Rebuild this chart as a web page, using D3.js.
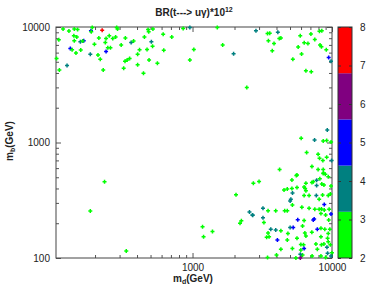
<!DOCTYPE html>
<html>
<head>
<meta charset="utf-8">
<script src="https://cdn.jsdelivr.net/npm/d3@7"></script>
<style>
  body { margin: 0; background: #fff; }
  text { font-family: "Liberation Sans", Arial, sans-serif; fill: #222; }
</style>
</head>
<body>
<div id="chart"></div>
<script>
// scatter values: m_d (GeV), m_b (GeV), BR*1e12
let md = [118,130,142,150,187,188,191,225,286,290,110,141,148,142,157,166,163,213,240,253,
  268,281,237,198,247,258,133,137,158,146,185,210,240,218,308,330,363,378,452,480,
  485,520,507,517,417,472,404,354,340,328,488,404,321,229,445,560,622,616,710,857,
  957,1022,957,126,111,106,1505,2850,3450,3580,4090,3500,3840,4190,4300,3730,5920,7060,8130,8450,
  8210,8400,7530,6320,6720,5720,6050,5240,9100,9470,9840,6500,7100,1645,1970,2450,9250,6010,7500,8650,
  9160,9850,6580,7950,8140,8600,9160,9940,7180,7950,8650,4210,5610,8650,2730,3000,5160,5550,6500,7180,
  7340,7760,8180,8700,8950,9400,9840,7760,8450,8750,4530,4780,5160,5610,6310,6420,6500,5210,6310,6850,
  7720,8560,9400,5070,5010,8090,9730,8800,3200,3480,3950,4580,4780,6080,5200,6850,7530,8090,8400,8800,
  9540,9840,2690,3200,7450,7340,5680,6310,8330,9000,9470,3250,5010,5270,6150,7850,8330,8880,9650,3640,
  3950,4300,3480,4830,6390,7170,9400,3540,3400,4060,4780,5610,6500,8330,9300,5980,6250,7670,8400,8750,
  9400,9730,5200,6310,4300,5980,7850,9200,9300,9990,6150,7200,8330,9840,5930,5510,9000,3450,4000,5930,
  234,185,335,1180,1200,1390,2050,2190,2240,2560,2700];
let mb = [9600,9250,9600,9500,9300,9100,9900,9350,9900,9600,7760,8400,8200,7600,7460,7600,7550,8050,7950,8400,
  7950,8200,7350,7100,6600,6600,6500,6350,6320,5950,5820,5720,6150,5250,6990,8050,7350,7550,8200,9500,
  9100,9600,7450,6800,6350,6400,5820,5350,5180,5050,5180,4720,4400,4250,3970,4850,6280,8650,8200,9700,
  9900,6400,5180,4640,4250,5350,9900,9300,8800,8850,9000,7600,7200,7950,8050,6230,8400,8700,9200,9300,
  7000,6750,7800,7300,7200,6700,5850,5250,6350,5450,5050,4180,4100,6990,5870,3000,1280,1090,1050,1030,
  1040,1010,820,790,730,700,745,700,620,585,585,585,523,540,443,460,474,517,443,450,
  458,470,485,545,530,505,420,425,437,428,388,395,400,408,412,400,383,365,348,348,
  348,351,348,322,312,322,358,290,270,257,257,257,257,275,288,270,264,264,266,260,
  264,240,236,223,218,213,214,211,243,236,213,203,184,184,189,177,181,177,177,177,
  175,172,165,163,165,167,163,153,151,143,143,148,155,153,148,131,130,132,130,132,
  138,130,121,121,119,117,119,124,110,111,106,104,104,104,100,100,101,101,106,108,
  458,255,115,186,153,170,353,200,210,250,234];
let br = [2.4,2.6,2.3,2.8,5.0,2.5,2.2,7.5,2.7,2.4,2.9,2.3,2.6,2.5,3.8,5.1,2.4,2.7,2.2,2.5,
  2.8,2.3,2.6,2.9,2.4,2.2,4.9,2.5,2.7,2.3,3.6,2.6,5.2,2.4,2.8,2.5,3.9,2.3,2.6,2.2,
  2.9,2.4,3.7,2.5,2.7,2.3,2.6,2.4,2.8,2.2,2.5,2.7,2.3,2.6,2.4,2.9,2.5,2.3,2.7,2.4,
  3.5,2.6,2.2,3.9,2.5,2.8,2.4,3.6,2.5,2.7,3.9,2.3,2.6,2.4,2.8,2.5,2.2,2.7,2.4,2.9,
  2.3,2.6,2.5,2.8,2.4,2.2,2.7,2.5,2.3,5.0,3.7,2.6,2.4,2.8,3.8,2.5,3.9,2.3,3.6,2.6,
  2.4,2.8,2.5,2.2,2.7,2.4,2.9,3.7,2.5,2.3,2.6,2.4,2.8,2.5,2.7,2.3,2.6,2.4,2.2,2.8,
  2.5,3.5,2.7,2.4,2.3,2.6,2.9,3.9,2.5,2.4,2.7,2.3,2.6,2.8,2.4,2.5,2.2,3.6,2.7,2.4,
  3.8,2.6,2.3,3.7,3.9,2.5,2.8,4.8,3.6,2.4,2.7,2.3,2.6,2.5,2.8,2.4,2.2,2.7,2.5,2.3,
  2.9,5.1,3.8,3.5,4.9,5.0,5.2,2.6,2.4,2.7,2.5,2.3,3.7,5.0,2.6,5.2,2.4,2.8,2.5,3.8,
  3.6,2.7,2.3,2.6,2.4,2.5,2.9,2.2,2.6,5.0,2.4,2.7,2.5,2.3,2.8,2.4,2.6,2.5,2.2,2.7,
  2.4,2.9,2.3,5.0,2.6,2.5,2.8,3.8,3.6,2.4,2.7,2.5,2.3,3.7,6.0,2.6,2.4,2.5,2.8,3.9,
  2.5,2.7,2.4,2.6,2.3,2.8,2.5,2.4,2.7,3.7,3.9];

// axis ticks
let xMajor = [1000, 10000];
let xMinor = [200,300,400,500,600,700,800,900,2000,3000,4000,5000,6000,7000,8000,9000];
let yMajor = [100, 1000, 10000];
let yMinor = [200,300,400,500,600,700,800,900,2000,3000,4000,5000,6000,7000,8000,9000];
let cbTicks = [2,3,4,5,6,7,8];
let cbColors = ["#00ff00", "#008080", "#0000ff", "#800080", "#ff0000"];

let svgWidth = 389;
let svgHeight = 297;
let margin = { top: 27, right: 57, bottom: 39, left: 56 };
let width = 332 - margin.left;
let height = 258 - margin.top;

let svg = d3.select('#chart')
    .append('svg')
    .attr('width', svgWidth)
    .attr('height', svgHeight);

let chartGroup = svg.append('g')
    .attr('transform', `translate(${margin.left}, ${margin.top})`);

let xScale = d3.scaleLog().domain([105, 10000]).range([0, width]);
let yScale = d3.scaleLog().domain([100, 10000]).range([height, 0]);
let color = d3.scaleQuantize().domain([2, 8]).range(cbColors);

// frame ticks (gnuplot style, inward and mirrored)
function tickAxis(axisFn, scale, values, size, labels) {
    let a = axisFn(scale).tickValues(values).tickSizeInner(size).tickSizeOuter(0).tickPadding(6);
    if (!labels) a.tickFormat('');
    else a.tickFormat(d3.format('d'));
    return a;
}

let xb = chartGroup.append('g').attr('transform', `translate(0,${height})`);
xb.call(tickAxis(d3.axisBottom, xScale, xMajor, -5, true));
xb.append('g').call(tickAxis(d3.axisBottom, xScale, xMinor, -3, false));
let xt = chartGroup.append('g');
xt.call(tickAxis(d3.axisTop, xScale, xMajor, -5, false));
xt.append('g').call(tickAxis(d3.axisTop, xScale, xMinor, -3, false));

let yl = chartGroup.append('g');
yl.call(tickAxis(d3.axisLeft, yScale, yMajor, -5, true));
yl.append('g').call(tickAxis(d3.axisLeft, yScale, yMinor, -3, false));
let yr = chartGroup.append('g').attr('transform', `translate(${width},0)`);
yr.call(tickAxis(d3.axisRight, yScale, yMajor, -5, false));
yr.append('g').call(tickAxis(d3.axisRight, yScale, yMinor, -3, false));

chartGroup.selectAll('.domain').remove();
chartGroup.selectAll('.tick line').attr('stroke', '#555');
chartGroup.selectAll('.tick text').attr('font-size', 10).attr('fill', '#222');

chartGroup.append('rect')
    .attr('width', width)
    .attr('height', height)
    .attr('fill', 'none')
    .attr('stroke', '#444')
    .attr('stroke-width', 1);

// points
chartGroup.selectAll('path.pt')
    .data(md)
    .enter()
    .append('path')
    .attr('class', 'pt')
    .attr('d', 'M-2,0H2M0,-2V2')
    .attr('transform', (d, i) => `translate(${xScale(d)},${yScale(mb[i])})`)
    .attr('stroke', (d, i) => color(br[i]))
    .attr('stroke-width', 1.5)
    .attr('fill', 'none');

// colorbar
let cbScale = d3.scaleLinear().domain([2, 8]).range([258, 27]);
let cbX = 338, cbW = 14;
let cb = svg.append('g');
cb.selectAll('rect.band')
    .data(color.range())
    .enter()
    .append('rect')
    .attr('class', 'band')
    .attr('x', cbX)
    .attr('width', cbW)
    .attr('y', d => cbScale(color.invertExtent(d)[1]))
    .attr('height', d => cbScale(color.invertExtent(d)[0]) - cbScale(color.invertExtent(d)[1]))
    .attr('fill', d => d);
cb.append('rect')
    .attr('x', cbX).attr('y', 27)
    .attr('width', cbW).attr('height', 231)
    .attr('fill', 'none').attr('stroke', '#333');

let cbAxis = cb.append('g').attr('transform', `translate(${cbX + cbW},0)`)
    .call(d3.axisRight(cbScale).tickValues(cbTicks).tickFormat(d3.format('d'))
        .tickSizeInner(-3).tickSizeOuter(0).tickPadding(8));
cbAxis.select('.domain').remove();
cbAxis.selectAll('.tick line').attr('stroke', '#333');
cbAxis.selectAll('.tick text').attr('font-size', 10).attr('fill', '#222');
cb.append('g').attr('transform', `translate(${cbX},0)`)
    .call(d3.axisLeft(cbScale).tickValues(cbTicks).tickSizeInner(-3).tickSizeOuter(0).tickFormat(''))
    .call(g => g.select('.domain').remove())
    .selectAll('.tick line').attr('stroke', '#333');

// title and axis labels
let title = svg.append('text')
    .attr('x', 194).attr('y', 16)
    .attr('text-anchor', 'middle')
    .attr('font-size', 10)
    .attr('font-weight', 'bold');
title.append('tspan').text('BR(t---> uγ)*10');
title.append('tspan').attr('font-size', 7).attr('dy', -4).text('12');

let xLabel = svg.append('text')
    .attr('x', 193).attr('y', 282)
    .attr('text-anchor', 'middle')
    .attr('font-size', 10)
    .attr('font-weight', 'bold');
xLabel.append('tspan').text('m');
xLabel.append('tspan').attr('font-size', 7).attr('dy', 2).text('d');
xLabel.append('tspan').attr('dy', -2).text('(GeV)');

let yLabel = svg.append('text')
    .attr('transform', 'translate(13,141) rotate(-90)')
    .attr('text-anchor', 'middle')
    .attr('font-size', 10)
    .attr('font-weight', 'bold');
yLabel.append('tspan').text('m');
yLabel.append('tspan').attr('font-size', 7).attr('dy', 2).text('b');
yLabel.append('tspan').attr('dy', -2).text('(GeV)');
</script>
</body>
</html>
